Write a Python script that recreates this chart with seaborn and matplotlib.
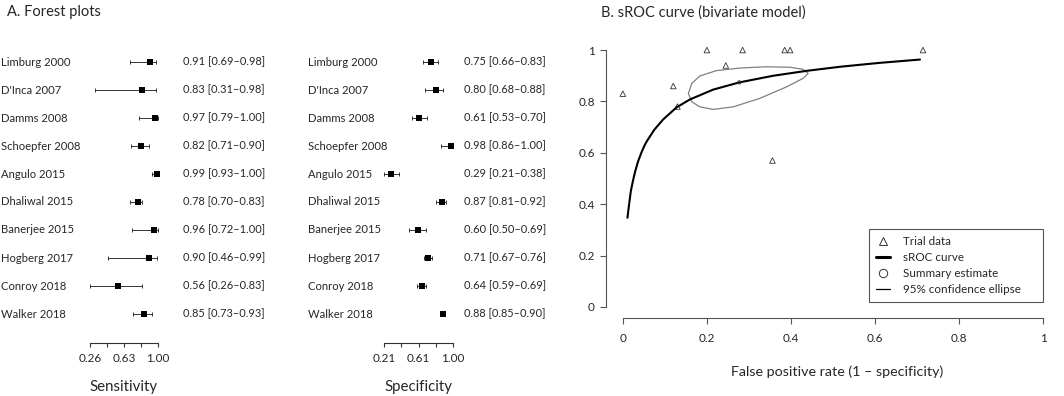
import matplotlib
matplotlib.use("Agg")
import matplotlib.pyplot as plt
import matplotlib.transforms as mtransforms
from matplotlib.lines import Line2D
import seaborn as sns
import pandas as pd

# forest plot data
studies = ["Limburg 2000", "D'Inca 2007", "Damms 2008", "Schoepfer 2008", "Angulo 2015",
           "Dhaliwal 2015", "Banerjee 2015", "Hogberg 2017", "Conroy 2018", "Walker 2018"]
sens = [0.91, 0.83, 0.97, 0.82, 0.99, 0.78, 0.96, 0.90, 0.56, 0.85]
sens_lo = [0.69, 0.31, 0.79, 0.71, 0.93, 0.70, 0.72, 0.46, 0.26, 0.73]
sens_hi = [0.98, 0.98, 1.00, 0.90, 1.00, 0.83, 1.00, 0.99, 0.83, 0.93]
spec = [0.75, 0.80, 0.61, 0.98, 0.29, 0.87, 0.60, 0.71, 0.64, 0.88]
spec_lo = [0.66, 0.68, 0.53, 0.86, 0.21, 0.81, 0.50, 0.67, 0.59, 0.85]
spec_hi = [0.83, 0.88, 0.70, 1.00, 0.38, 0.92, 0.69, 0.76, 0.69, 0.90]
sens_ticks = [0.26, 0.445, 0.63, 0.815, 1.00]
sens_ticklabels = ["0.26", "", "0.63", "", "1.00"]
spec_ticks = [0.21, 0.4075, 0.605, 0.8025, 1.00]
spec_ticklabels = ["0.21", "", "0.61", "", "1.00"]

# sROC data
trial_fpr = [0.00, 0.12, 0.13, 0.20, 0.245, 0.285, 0.356, 0.385, 0.398, 0.714]
trial_tpr = [0.83, 0.86, 0.78, 1.00, 0.94, 1.00, 0.57, 1.00, 1.00, 1.00]
curve_fpr = [0.011, 0.015, 0.019, 0.024, 0.029, 0.036, 0.044, 0.052, 0.059, 0.075,
             0.096, 0.128, 0.160, 0.215, 0.277, 0.358, 0.437, 0.517, 0.610, 0.707]
curve_tpr = [0.347, 0.400, 0.450, 0.490, 0.525, 0.565, 0.600, 0.630, 0.650, 0.690,
             0.730, 0.777, 0.808, 0.846, 0.874, 0.900, 0.919, 0.935, 0.950, 0.963]
ell_fpr = [0.156, 0.164, 0.183, 0.223, 0.279, 0.342, 0.398, 0.429, 0.441, 0.429,
           0.390, 0.326, 0.263, 0.215, 0.183, 0.164, 0.156]
ell_tpr = [0.831, 0.870, 0.899, 0.920, 0.930, 0.935, 0.933, 0.925, 0.909, 0.890,
           0.857, 0.812, 0.779, 0.769, 0.779, 0.799, 0.831]
summary_fpr = [0.277]
summary_tpr = [0.874]
roc_ticks = [0, 0.2, 0.4, 0.6, 0.8, 1]
roc_ticklabels = ["0", "0.2", "0.4", "0.6", "0.8", "1"]

sns.set_theme(style="white")
plt.rcParams['font.family'] = ['Lato', 'DejaVu Sans']

W, H = 1064, 396
fig = plt.figure(figsize=(W / 100, H / 100), dpi=100)

rows = list(range(len(studies)))
forest = pd.DataFrame({"study": studies, "row": rows, "sens": sens, "spec": spec})


def forest_panel(left_px, right_px, est, lo, hi, ticks, ticklabels, xlabel, name_px, val_px):
    ax = fig.add_axes([left_px / W, (H - 343) / H, (right_px - left_px) / W, (343 - 48) / H])
    ax.errorbar(est, rows, xerr=[[e - l for e, l in zip(est, lo)], [h - e for e, h in zip(est, hi)]],
                fmt="none", ecolor="#333333", elinewidth=0.7, capsize=1.7, capthick=0.7, clip_on=False)
    sns.scatterplot(x=est, y=rows, marker="s", s=16, color="black", linewidth=0, ax=ax,
                    clip_on=False, legend=False, zorder=3)
    ax.set_xlim(ticks[0], ticks[-1])
    ax.set_ylim((343 - 62) / 28, -0.5)
    for s in ["left", "top", "right"]:
        ax.spines[s].set_visible(False)
    ax.spines["bottom"].set_color("#333333")
    ax.spines["bottom"].set_linewidth(0.8)
    ax.set_yticks([])
    ax.set_xticks(ticks)
    ax.set_xticklabels(ticklabels)
    ax.tick_params(axis="x", bottom=True, direction="out", length=3, width=0.8,
                   color="#333333", pad=4.5, labelsize=8.5)
    ax.set_facecolor("none")
    fig.text((left_px + right_px) / 2 / W, 5 / H, xlabel, ha="center", va="baseline", fontsize=10.8)
    tr = mtransforms.blended_transform_factory(fig.transFigure, ax.transData)
    for r, name, e, l, h in zip(rows, studies, est, lo, hi):
        ax.text(name_px / W, r, name, transform=tr, ha="left", va="center", fontsize=8.1)
        ax.text(val_px / W, r, f"{e:.2f} [{l:.2f}\u2013{h:.2f}]", transform=tr,
                ha="left", va="center", fontsize=7.9)
    return ax


forest_panel(90, 158, sens, sens_lo, sens_hi, sens_ticks, sens_ticklabels, "Sensitivity", 1, 183)
forest_panel(384, 453, spec, spec_lo, spec_hi, spec_ticks, spec_ticklabels, "Specificity", 308, 464)

fig.text(7 / W, 1 - 12 / H, "A. Forest plots", ha="left", va="center", fontsize=10.5)
fig.text(601 / W, 1 - 13 / H, "B. sROC curve (bivariate model)", ha="left", va="center", fontsize=10.5)

# sROC panel
ax = fig.add_axes([606 / W, (H - 318) / H, (1060 - 606) / W, (318 - 39) / H])
sns.lineplot(x=ell_fpr, y=ell_tpr, sort=False, estimator=None, color="#808080", linewidth=0.9, ax=ax)
sns.lineplot(x=curve_fpr, y=curve_tpr, sort=False, estimator=None, color="black", linewidth=1.5, ax=ax)
sns.scatterplot(x=trial_fpr, y=trial_tpr, marker="^", s=16, facecolor="none", edgecolor="#333333",
                linewidth=0.6, ax=ax, legend=False, clip_on=False)
sns.scatterplot(x=summary_fpr, y=summary_tpr, marker="o", s=6, facecolor="none", edgecolor="#333333",
                linewidth=0.6, ax=ax, legend=False, zorder=4)
ax.set_xlim(-0.04, 1.04)
ax.set_ylim(-0.043, 1.043)
for s in ["top", "right"]:
    ax.spines[s].set_visible(False)
for s in ["left", "bottom"]:
    ax.spines[s].set_color("#555555")
    ax.spines[s].set_linewidth(0.8)
ax.spines["left"].set_bounds(0, 1)
ax.spines["bottom"].set_bounds(0, 1)
ax.set_xticks(roc_ticks)
ax.set_xticklabels(roc_ticklabels)
ax.set_yticks(roc_ticks)
ax.set_yticklabels(roc_ticklabels)
ax.tick_params(axis="both", direction="out", length=4, width=0.8, color="#555555", labelsize=8.5)
ax.tick_params(axis="x", bottom=True, pad=6.5)
ax.tick_params(axis="y", left=True, pad=4)
ax.set_facecolor("none")
fig.text(837 / W, 1 - 375.5 / H, "False positive rate (1 \u2013 specificity)", ha="center",
         va="baseline", fontsize=10.3)

handles = [
    Line2D([], [], marker="^", linestyle="none", markersize=6, markerfacecolor="none",
           markeredgecolor="#333333", markeredgewidth=0.7),
    Line2D([], [], color="black", linewidth=2.2),
    Line2D([], [], marker="o", linestyle="none", markersize=6, markerfacecolor="none",
           markeredgecolor="#333333", markeredgewidth=0.7),
    Line2D([], [], color="black", linewidth=0.9),
]
labels = ["Trial data", "sROC curve", "Summary estimate", "95% confidence ellipse"]
leg = ax.legend(handles, labels, loc="upper left",
                bbox_to_anchor=(869 / W, 1 - 229 / H - 0.01, (1043 - 869) / W, 0.01),
                bbox_transform=fig.transFigure, mode="expand", fontsize=8.4,
                frameon=True, fancybox=False, framealpha=1, edgecolor="#555555",
                handlelength=1.2, handletextpad=1.1, labelspacing=0.42, borderpad=0.6,
                borderaxespad=0)
leg.get_frame().set_linewidth(0.8)

fig.savefig("out.png", dpi=100)
